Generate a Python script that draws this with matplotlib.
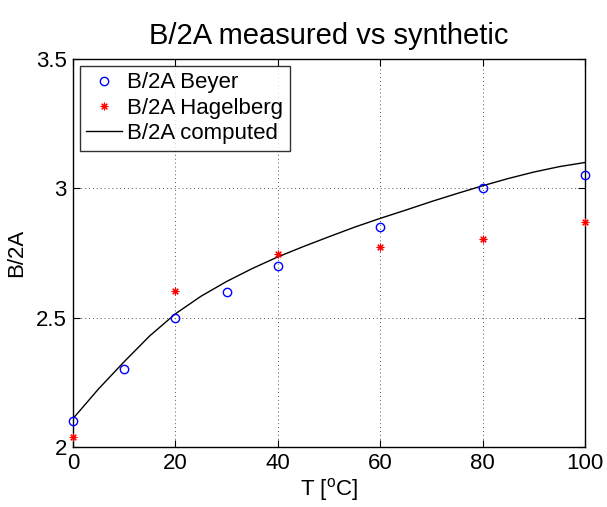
import matplotlib
matplotlib.use("Agg")
import matplotlib.pyplot as plt

plt.rcParams['font.family'] = ['Liberation Sans', 'DejaVu Sans']

beyer_T = [0, 10, 20, 30, 40, 60, 80, 100]
beyer_v = [2.10, 2.30, 2.50, 2.60, 2.70, 2.85, 3.00, 3.05]
hag_T = [0, 20, 40, 60, 80, 100]
hag_v = [2.04, 2.605, 2.745, 2.775, 2.805, 2.87]
comp_T = [0, 5, 10, 15, 20, 25, 30, 35, 40, 45, 50, 55, 60, 65, 70, 75, 80, 85, 90, 95, 100]
comp_v = [2.11, 2.225, 2.33, 2.43, 2.515, 2.583, 2.64, 2.69, 2.735, 2.775, 2.813,
          2.85, 2.884, 2.916, 2.949, 2.98, 3.01, 3.038, 3.063, 3.084, 3.10]
xticks = [0, 20, 40, 60, 80, 100]
yticks = [2, 2.5, 3, 3.5]
ytick_labels = ['2', '2.5', '3', '3.5']

fig = plt.figure(figsize=(6.07, 5.07), dpi=100)
ax = fig.add_axes([0.1203, 0.1183, 0.8435, 0.7653])

ax.plot(beyer_T, beyer_v, 'o', mfc='none', mec='#0000ff', ms=6, mew=1.0,
        label='B/2A Beyer', zorder=3, clip_on=False)
ax.plot(hag_T, hag_v, marker=(8, 2, 0), color='#ff0000', ms=5.5, mew=0.8, ls='none',
        label='B/2A Hagelberg', zorder=3, clip_on=False)
ax.plot(comp_T, comp_v, '-', color='black', lw=1.0, label='B/2A computed', zorder=2)

ax.set_xlim(0, 100)
ax.set_ylim(2, 3.5)
ax.set_xticks(xticks)
ax.set_yticks(yticks)
ax.set_yticklabels(ytick_labels)
ax.grid(True, linestyle=(0, (1, 3)), color='#555555', lw=0.7)
ax.tick_params(direction='in', top=True, right=True, labelsize=16, length=5, pad=4.5)
for s in ax.spines.values():
    s.set_linewidth(1.0)

ax.set_title('B/2A measured vs synthetic', fontsize=21, pad=11)
ax.set_xlabel('T [$^{\\mathregular{o}}$C]', fontsize=16, labelpad=1)
ax.set_ylabel('B/2A', fontsize=16, labelpad=6)

leg = ax.legend(loc='upper left', fontsize=16, frameon=True, fancybox=False,
                edgecolor='black', borderaxespad=0.3, handlelength=1.6,
                handletextpad=0.25, borderpad=0.3, labelspacing=0.2)
leg.get_frame().set_linewidth(1.0)

fig.savefig('out.png', dpi=100)
